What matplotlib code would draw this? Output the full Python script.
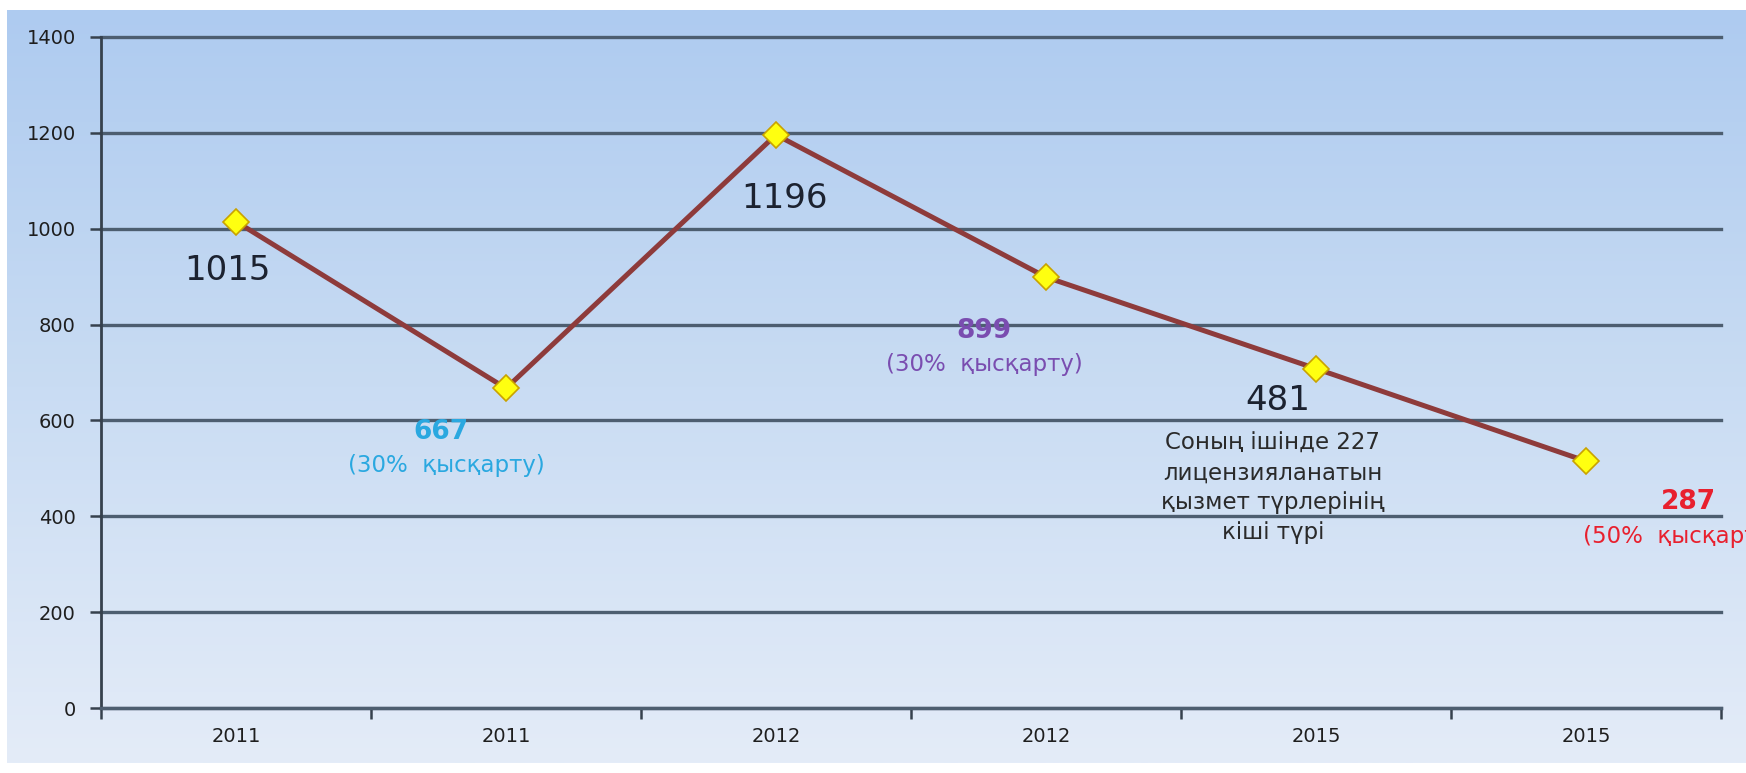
import numpy as np
import matplotlib
matplotlib.use("Agg")
import matplotlib.pyplot as plt
from matplotlib.colors import LinearSegmentedColormap

# ---- data ----
categories = ["2011", "2011", "2012", "2012", "2015", "2015"]
values = [1015, 667, 1196, 899, 708, 515]
yticks = [0, 200, 400, 600, 800, 1000, 1200, 1400]

# annotation texts (as printed on the chart)
big_labels = ["1015", "1196", "481"]
cut_text = "(30%  қысқарту)"
cut_text50 = "(50%  қысқарту)"
note_text = "Соның ішінде 227\nлицензияланатын\nқызмет түрлерінің\nкіші түрі"

plt.rcParams['font.family'] = ['DejaVu Sans']

W, H = 1746, 773
fig = plt.figure(figsize=(W / 100, H / 100), dpi=100)
fig.patch.set_facecolor("white")

# gradient background
bg = fig.add_axes([7 / W, 10 / H, 1 - 7 / W, 1 - 20 / H], zorder=0)
cmap = LinearSegmentedColormap.from_list("bg", ["#e4ecf8", "#c9dcf3", "#aecbf0"])
grad = np.linspace(0, 1, 256).reshape(-1, 1)
bg.imshow(grad, aspect="auto", cmap=cmap, origin="lower", extent=[0, 1, 0, 1])
bg.set_axis_off()

# main axes
x0, x1 = 101, 1721
y0, y1 = 708, 37
ax = fig.add_axes([x0 / W, (H - y0) / H, (x1 - x0) / W, (y0 - y1) / H], zorder=1)
ax.patch.set_alpha(0)

x = np.arange(len(categories))
ax.set_xlim(-0.5, len(categories) - 0.5)
ax.set_ylim(0, 1400)

grid_c = "#4d5e70"
for yv in yticks:
    ax.axhline(yv, color=grid_c, lw=2.4, zorder=1, clip_on=False)

ax.plot(x, values, color="#8e3b3b", lw=3.6, zorder=3, solid_capstyle="round")
ax.plot(x, values, ls="none", marker="D", ms=13, mfc="#ffff10", mec="#c9a200",
        mew=1.2, zorder=4)

for s in ["top", "right"]:
    ax.spines[s].set_visible(False)
ax.spines["left"].set_color("#36414d")
ax.spines["left"].set_linewidth(2)
ax.spines["bottom"].set_color(grid_c)
ax.spines["bottom"].set_linewidth(2.4)

ax.set_yticks(yticks)
ax.set_yticklabels([str(v) for v in yticks], fontsize=14, color="#1e1e1e")
ax.tick_params(axis="y", length=8, width=1.8, color="#36414d", pad=10)

ax.set_xticks(np.arange(-0.5, len(categories)))
ax.set_xticklabels([])
ax.set_xticks(x, minor=True)
ax.set_xticklabels(categories, minor=True, fontsize=14, color="#1e1e1e")
ax.tick_params(axis="x", which="major", length=8, width=1.8, color="#36414d",
               direction="out")
ax.tick_params(axis="x", which="minor", length=0, pad=14)

dark = "#1c2230"
blue = "#2aa8e0"
purple = "#7a4db0"
red = "#e8202e"

ax.text(-0.03, 912, big_labels[0], fontsize=24.5, color=dark, ha="center", va="center", zorder=5)
ax.text(2.03, 1064, big_labels[1], fontsize=24.5, color=dark, ha="center", va="center", zorder=5)

ax.text(0.76, 576, str(values[1]), fontsize=19, fontweight="bold", color=blue,
        ha="center", va="center", zorder=5)
ax.text(0.78, 507, cut_text, fontsize=16.5, color=blue, ha="center", va="center", zorder=5)

ax.text(2.77, 787, str(values[3]), fontsize=19, fontweight="bold", color=purple,
        ha="center", va="center", zorder=5)
ax.text(2.77, 716, cut_text, fontsize=16.5, color=purple, ha="center", va="center", zorder=5)

ax.text(3.86, 641, big_labels[2], fontsize=24.5, color=dark, ha="center", va="center", zorder=5)
ax.text(3.84, 459, note_text, fontsize=16.5, color="#2a2a2a", ha="center", va="center",
        linespacing=1.38, zorder=5)

ax.text(5.38, 430, "287", fontsize=19, fontweight="bold", color=red,
        ha="center", va="center", zorder=5)
ax.text(4.99, 357, cut_text50, fontsize=16.5, color=red, ha="left", va="center",
        zorder=5, clip_on=False)

fig.savefig("out.png", dpi=100, facecolor=fig.get_facecolor())
